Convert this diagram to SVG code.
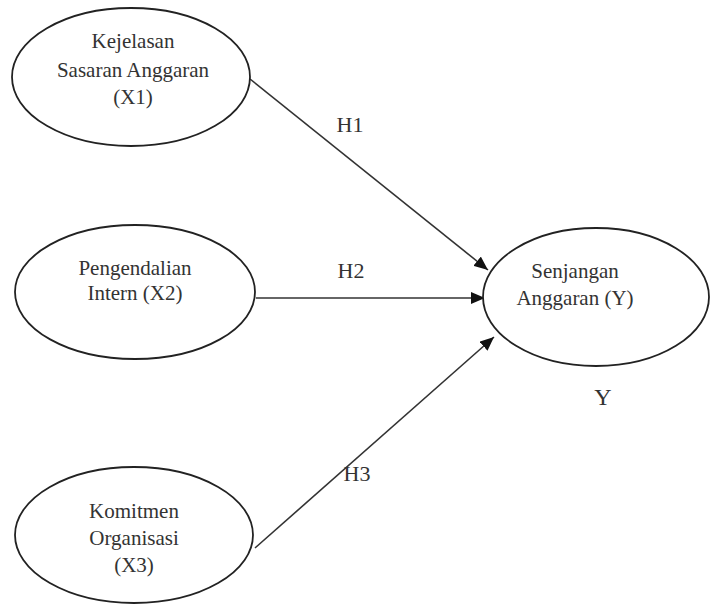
<svg xmlns="http://www.w3.org/2000/svg" width="710" height="605" viewBox="0 0 710 605">
<style>
.node ellipse{fill:#fff;stroke:#222;stroke-width:1.8}
.t{font-family:"Liberation Serif","Times New Roman",serif;font-size:21px;fill:#333;text-anchor:middle}
.lbl{font-family:"Liberation Serif","Times New Roman",serif;font-size:22px;fill:#333;text-anchor:middle}
.edge{stroke:#333;stroke-width:1.6;fill:none;marker-end:url(#ah)}
</style>
<defs>
<marker id="ah" markerUnits="userSpaceOnUse" markerWidth="14" markerHeight="12" refX="14" refY="6" orient="auto">
<path d="M0,0 L14,6 L0,12 Z" fill="#111"/>
</marker>
</defs>
<rect width="710" height="605" fill="#fff"/>
<g id="connectors">
<line class="edge" x1="250" y1="79" x2="488" y2="270"/>
<line class="edge" x1="256" y1="298" x2="485" y2="298"/>
<line class="edge" x1="255" y1="548" x2="494" y2="337"/>
<text class="lbl" x="350" y="132">H1</text>
<text class="lbl" x="351" y="278">H2</text>
<text class="lbl" x="357" y="481">H3</text>
</g>
<g id="x1" class="node">
<ellipse cx="131" cy="77" rx="119" ry="69"/>
<text class="t" x="133" y="48">Kejelasan</text>
<text class="t" x="133" y="77">Sasaran Anggaran</text>
<text class="t" x="133" y="104">(X1)</text>
</g>
<g id="x2" class="node">
<ellipse cx="135" cy="292" rx="120" ry="67"/>
<text class="t" x="135" y="275">Pengendalian</text>
<text class="t" x="135" y="300">Intern (X2)</text>
</g>
<g id="x3" class="node">
<ellipse cx="134" cy="535" rx="119" ry="68"/>
<text class="t" x="134" y="518">Komitmen</text>
<text class="t" x="134" y="545">Organisasi</text>
<text class="t" x="134" y="572">(X3)</text>
</g>
<g id="y" class="node">
<ellipse cx="596" cy="297" rx="113" ry="69"/>
<text class="t" x="575" y="278">Senjangan</text>
<text class="t" x="575" y="305">Anggaran (Y)</text>
</g>
<text class="lbl" x="603" y="405" style="font-size:24px">Y</text>
</svg>
